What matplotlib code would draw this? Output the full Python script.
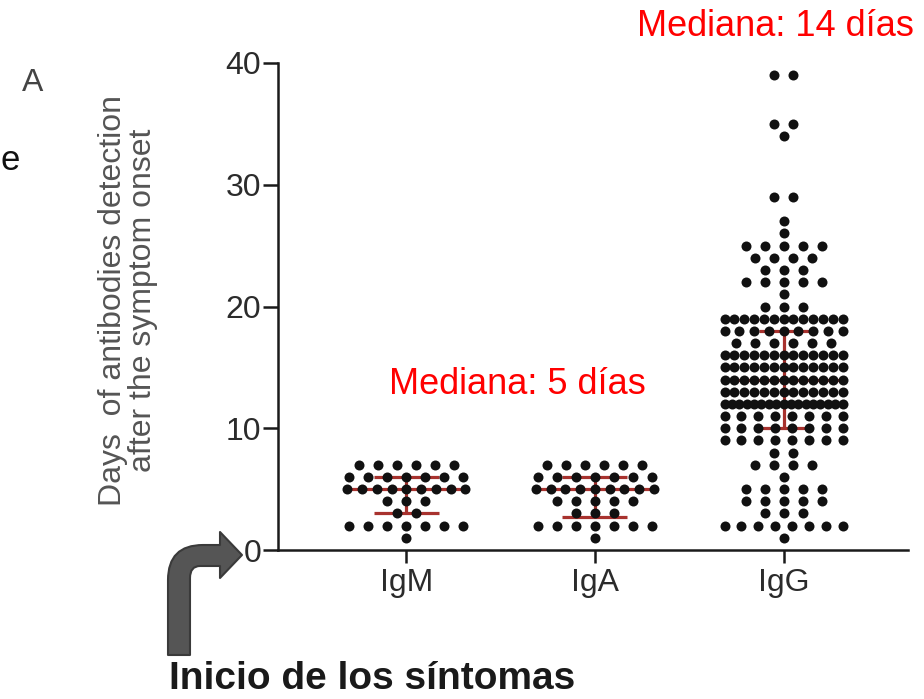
#!/usr/bin/env python3
"""
Dot plot: days of antibody detection after symptom onset (IgM, IgA, IgG)
"""

import matplotlib.pyplot as plt
import numpy as np
from matplotlib.path import Path
from matplotlib.patches import PathPatch

plt.rcParams['font.family'] = ['Liberation Sans', 'DejaVu Sans']

# ============================================================================
# DATA (value -> number of patients at that value)
# ============================================================================
groups = ['IgM', 'IgA', 'IgG']

igm_days = [1, 2, 3, 4, 5, 6, 7]
igm_counts = [1, 7, 2, 3, 9, 7, 6]

iga_days = [1, 2, 3, 4, 5, 6, 7]
iga_counts = [1, 7, 3, 5, 9, 7, 6]

igg_days = [1, 2, 3, 4, 5, 6, 7, 8, 9, 10, 11, 12, 13, 14, 15, 16, 17, 18, 19,
            20, 21, 22, 23, 24, 25, 26, 27, 29, 34, 35, 39]
igg_counts = [1, 8, 3, 5, 5, 1, 4, 2, 8, 8, 8, 17, 13, 13, 13, 13, 6, 9, 13,
              3, 1, 5, 3, 4, 5, 1, 1, 2, 1, 2, 2]

# median and interquartile range (red bars)
medians = [5, 5, 14]
q1_values = [3, 2.75, 10]
q3_values = [6, 6, 18]

median_labels = ['Mediana: 5 días', 'Mediana: 14 días']

# ============================================================================
# Plot
# ============================================================================
W, H = 924, 699
fig = plt.figure(figsize=(W / 100, H / 100), dpi=100)

ax_left, ax_right, ax_bottom, ax_top = 278, 908, 550, 63
ax = fig.add_axes([ax_left / W, 1 - ax_bottom / H,
                   (ax_right - ax_left) / W, (ax_bottom - ax_top) / H])

xmin, xmax = -0.68, 2.66
ax.set_xlim(xmin, xmax)
ax.set_ylim(0, 40)
unit_per_px = (xmax - xmin) / (ax_right - ax_left)

dot_gap = 19 * unit_per_px     # normal spacing between dots in a row
max_span = 118 * unit_per_px   # rows never get wider than this

all_days = [igm_days, iga_days, igg_days]
all_counts = [igm_counts, iga_counts, igg_counts]
cap_half = [32.5 * unit_per_px, 32.5 * unit_per_px, 25 * unit_per_px]
median_half = 60 * unit_per_px
bar_color = '#a8322e'

for gi, (days, counts) in enumerate(zip(all_days, all_counts)):
    xs, ys = [], []
    for d, n in zip(days, counts):
        if n == 1:
            offs = np.array([0.0])
        else:
            gap = min(dot_gap, max_span / (n - 1))
            offs = (np.arange(n) - (n - 1) / 2) * gap
        xs.extend(gi + offs)
        ys.extend([d] * n)
    ax.plot(xs, ys, 'o', color='#111111', markersize=7.2,
            markeredgewidth=0, zorder=3)

    # median + IQR
    ax.hlines(medians[gi], gi - median_half, gi + median_half,
              color=bar_color, lw=2.3, zorder=2)
    ax.hlines([q1_values[gi], q3_values[gi]], gi - cap_half[gi], gi + cap_half[gi],
              color=bar_color, lw=2.3, zorder=2)
    ax.vlines(gi, q1_values[gi], q3_values[gi], color=bar_color, lw=2.3, zorder=2)

ax.spines['top'].set_visible(False)
ax.spines['right'].set_visible(False)
ax.spines['left'].set_linewidth(1.8)
ax.spines['bottom'].set_linewidth(1.8)
ax.spines['left'].set_color('#1a1a1a')
ax.spines['bottom'].set_color('#1a1a1a')

ax.set_yticks([0, 10, 20, 30, 40])
ax.set_xticks(range(len(groups)))
ax.set_xticklabels(groups)
ax.tick_params(axis='y', length=11, width=1.8, labelsize=23,
               labelcolor='#2b2b2b', pad=1, color='#1a1a1a')
ax.tick_params(axis='x', length=9, width=1.8, labelsize=23,
               labelcolor='#2b2b2b', pad=4, color='#1a1a1a')

# y label (two lines, grey)
fig.text(128 / W, 1 - 300 / H, 'Days  of antibodies detection\nafter the symptom onset',
         rotation=90, ha='center', va='center', fontsize=23, color='#555555',
         linespacing=1.0, multialignment='center')

# median annotations
fig.text(517 / W, 1 - 385 / H, median_labels[0], ha='center', va='center',
         fontsize=26, color='#ff0000')
fig.text(775 / W, 1 - 27 / H, median_labels[1], ha='center', va='center',
         fontsize=26, color='#ff0000')

# clipped text from neighbouring panel
fig.text(33 / W, 1 - 83 / H, 'A', ha='center', va='center', fontsize=23, color='#444444')
fig.text(0, 1 - 160 / H, 'e', ha='left', va='center', fontsize=25, color='#111111')

# bent arrow pointing at day 0
def px(x, y):
    return (x / W, 1 - y / H)

verts = [px(168, 655), px(168, 580), px(168, 545), px(203, 545), px(220, 545),
         px(220, 532), px(242, 555), px(220, 578), px(220, 566), px(200, 566),
         px(190, 566), px(190, 578), px(190, 655), px(168, 655)]
codes = [Path.MOVETO, Path.LINETO, Path.CURVE3, Path.CURVE3, Path.LINETO,
         Path.LINETO, Path.LINETO, Path.LINETO, Path.LINETO, Path.LINETO,
         Path.CURVE3, Path.CURVE3, Path.LINETO, Path.CLOSEPOLY]
arrow = PathPatch(Path(verts, codes), facecolor='#555555', edgecolor='#3a3a3a',
                  lw=1.5, transform=fig.transFigure, joinstyle='round')
fig.patches.append(arrow)

fig.text(372 / W, 1 - 697 / H, 'Inicio de los síntomas', ha='center', va='bottom',
         fontsize=28, fontweight='bold', color='#1a1a1a')

plt.savefig('out.png', dpi=100)
plt.close()
